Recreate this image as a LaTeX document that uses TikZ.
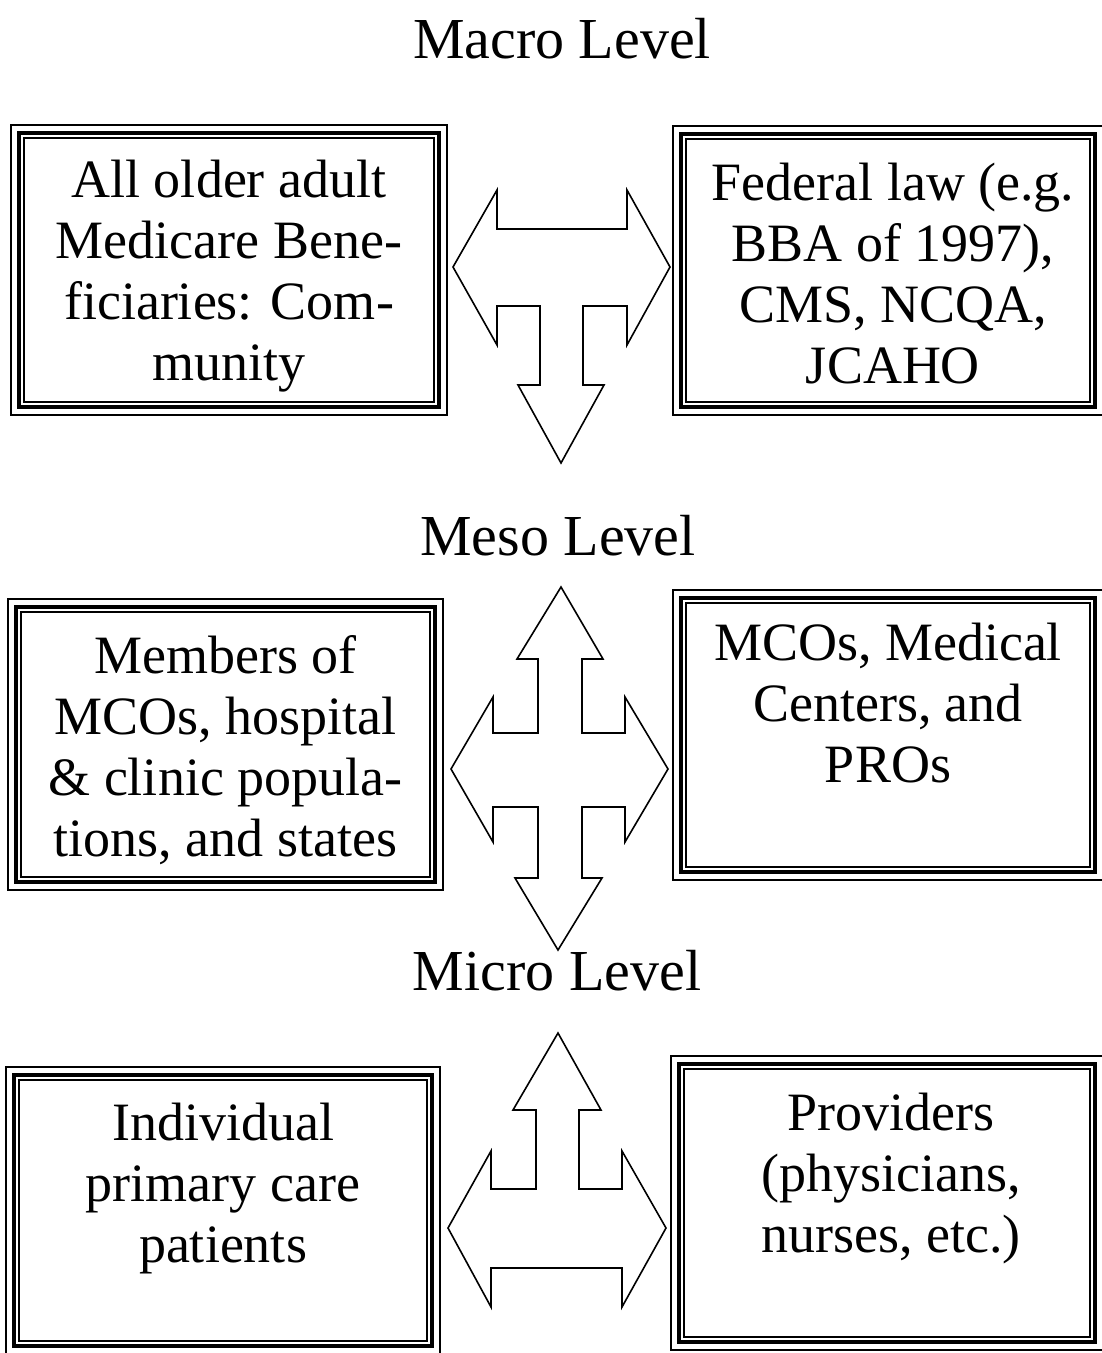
\documentclass[tikz,border=0pt]{standalone}
\usepackage{fontspec}
\setmainfont{Liberation Serif}
\usetikzlibrary{positioning}

\begin{document}
\begin{tikzpicture}[
  x=1pt, y=-1pt,
  frame/.style={draw, line width=4pt, inner sep=0pt},
  lbl/.style={align=center, inner sep=0pt, font=\fontsize{54}{61}\selectfont},
  level/.style={inner sep=0pt, font=\fontsize{58}{64}\selectfont},
  bigarrow/.style={draw, fill=white, line width=1.6pt, line join=miter}]

  \useasboundingbox (0,0) rectangle (1102,1353);

  % the three levels
  \node[level, anchor=base] (macro) at (562,58) {Macro Level};
  \node[level, anchor=base] (meso) at (558,555) {Meso Level};
  \node[level, anchor=base] (micro) at (557,990) {Micro Level};

  % boxes (thick middle rule)
  \node[frame, minimum width=420, minimum height=274] (tl) at (229,270) {};
  \node[frame, minimum width=414, minimum height=273] (tr) at (888,270.5) {};
  \node[frame, minimum width=419, minimum height=275] (ml) at (225.5,744.5) {};
  \node[frame, minimum width=414, minimum height=274] (mr) at (888,735) {};
  \node[frame, minimum width=418, minimum height=271] (bl) at (223,1210.5) {};
  \node[frame, minimum width=416, minimum height=278] (br) at (887,1203) {};

  % thin outer and inner rules
  \foreach \b in {tl,tr,ml,mr,bl,br}{
    \draw[line width=1.8pt] ([shift={(-6,-6)}]\b.north west) rectangle ([shift={(6,6)}]\b.south east);
    \draw[line width=1.8pt] ([shift={(7,7)}]\b.north west) rectangle ([shift={(-7,-7)}]\b.south east);
  }

  % texts
  \node[lbl, below=29pt of tl.north] (tltext) {All older adult\\Medicare Bene-\\ficiaries: Com-\\munity};
  \node[lbl, below=31pt of tr.north, xshift=5pt] (trtext) {Federal law (e.g.\\BBA of 1997),\\CMS, NCQA,\\JCAHO};
  \node[lbl, below=30pt of ml.north] (mltext) {Members of\\MCOs, hospital\\\& clinic popula-\\tions, and states};
  \node[lbl, below=27pt of mr.north] (mrtext) {MCOs, Medical\\Centers, and\\PROs};
  \node[lbl, below=30pt of bl.north] (bltext) {Individual\\primary care\\patients};
  \node[lbl, below=31pt of br.north, xshift=4pt] (brtext) {Providers\\(physicians,\\nurses, etc.)};

  % arrows
  \draw[bigarrow] (453,267) -- (497,190) -- (497,229) -- (627,229) -- (627,190)
    -- (670,267) -- (627,345) -- (627,306) -- (583,306) -- (583,385) -- (604,385)
    -- (561,463) -- (518,385) -- (540,385) -- (540,306) -- (497,306) -- (497,345) -- cycle;
  \draw[bigarrow] (561,587) -- (603,659) -- (582,659) -- (582,733) -- (625,733)
    -- (625,697) -- (668,769) -- (625,842) -- (625,807) -- (582,807) -- (582,878)
    -- (602,878) -- (558,950) -- (515,878) -- (538,878) -- (538,807) -- (493,807)
    -- (493,842) -- (451,769) -- (493,697) -- (493,733) -- (538,733) -- (538,659)
    -- (517,659) -- cycle;
  \draw[bigarrow] (558,1033) -- (601,1110) -- (579,1110) -- (579,1189) -- (622,1189)
    -- (622,1151) -- (666,1228) -- (622,1307) -- (622,1268) -- (491,1268)
    -- (491,1307) -- (448,1228) -- (491,1151) -- (491,1189) -- (536,1189)
    -- (536,1110) -- (513,1110) -- cycle;
\end{tikzpicture}
\end{document}
